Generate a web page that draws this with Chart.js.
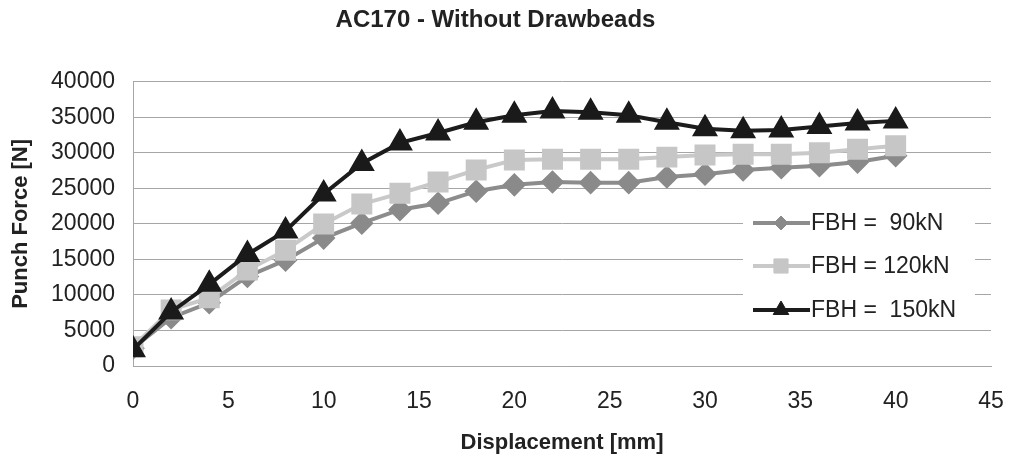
<!DOCTYPE html>
<html>
<head>
<meta charset="utf-8">
<script src="https://cdn.jsdelivr.net/npm/chart.js@4/dist/chart.umd.min.js"></script>
<style>
    html, body { margin: 0; padding: 0; background: #fff; }
    #wrap { width: 1009px; height: 459px; }
</style>
</head>
<body>
<div id="wrap"><canvas id="chart" width="1009" height="459"></canvas></div>
<script>
// Chart data
const displacement = [0, 2, 4, 6, 8, 10, 12, 14, 16, 18, 20, 22, 24, 26, 28, 30, 32, 34, 36, 38, 40];
const fbh90 = [2500, 6800, 8900, 12600, 14900, 18000, 20100, 22000, 22900, 24600, 25500, 25900, 25800, 25800, 26600, 27000, 27600, 27900, 28200, 28700, 29600];
const fbh120 = [2700, 7900, 9600, 13500, 16300, 20000, 22800, 24300, 25900, 27600, 29000, 29100, 29100, 29100, 29400, 29700, 29800, 29800, 30000, 30500, 31000];
const fbh150 = [2300, 7600, 11500, 15700, 19000, 24200, 28500, 31400, 32800, 34300, 35300, 35900, 35700, 35300, 34300, 33400, 33100, 33200, 33700, 34200, 34500];
const seriesLabels = ['FBH =  90kN', 'FBH = 120kN', 'FBH =  150kN'];
const xTicks = [0, 5, 10, 15, 20, 25, 30, 35, 40, 45];
const yTicks = [0, 5000, 10000, 15000, 20000, 25000, 30000, 35000, 40000];

const FONT = "'Liberation Sans', Arial, sans-serif";

function toPoints(values) {
    return values.map((v, i) => ({ x: displacement[i], y: v }));
}

// Legend drawn inside the plot, on a white box over the grid
const insideLegend = {
    id: 'insideLegend',
    afterDatasetsDraw(chart) {
        const ctx = chart.ctx;
        ctx.save();
        ctx.fillStyle = '#ffffff';
        ctx.fillRect(743, 196, 232, 131);
        const rows = [223, 266, 310];
        chart.data.datasets.forEach((ds, i) => {
            const y = rows[i];
            ctx.strokeStyle = ds.borderColor;
            ctx.lineWidth = ds.borderWidth;
            ctx.beginPath();
            ctx.moveTo(753, y);
            ctx.lineTo(810, y);
            ctx.stroke();
            ctx.fillStyle = ds.pointBackgroundColor;
            ctx.strokeStyle = ds.pointBackgroundColor;
            ctx.lineWidth = 1;
            Chart.helpers.drawPoint(ctx, {
                pointStyle: ds.pointStyle,
                radius: ds.legendRadius,
                borderWidth: 1
            }, 781, y);
            ctx.fillStyle = '#222';
            ctx.font = '23px ' + FONT;
            ctx.textBaseline = 'middle';
            ctx.textAlign = 'left';
            ctx.fillText(ds.label, 811, y + 1);
        });
        ctx.restore();
    }
};

const ctx = document.getElementById('chart').getContext('2d');
const chart = new Chart(ctx, {
    type: 'line',
    data: {
        datasets: [{
            label: seriesLabels[0],
            data: toPoints(fbh90),
            borderColor: '#8c8c8c',
            backgroundColor: '#8c8c8c',
            pointBackgroundColor: '#8a8a8a',
            pointBorderColor: '#8a8a8a',
            pointStyle: 'rectRot',
            pointRadius: 9,
            legendRadius: 7,
            borderWidth: 4,
            order: 3
        }, {
            label: seriesLabels[1],
            data: toPoints(fbh120),
            borderColor: '#c9c9c9',
            backgroundColor: '#c9c9c9',
            pointBackgroundColor: '#c6c6c6',
            pointBorderColor: '#c6c6c6',
            pointStyle: 'rect',
            pointRadius: 12,
            legendRadius: 10,
            borderWidth: 4,
            order: 2
        }, {
            label: seriesLabels[2],
            data: toPoints(fbh150),
            borderColor: '#1c1c1c',
            backgroundColor: '#1c1c1c',
            pointBackgroundColor: '#1a1a1a',
            pointBorderColor: '#1a1a1a',
            pointStyle: 'triangle',
            pointRadius: 11,
            legendRadius: 9,
            borderWidth: 4,
            order: 1
        }]
    },
    options: {
        responsive: false,
        animation: false,
        layout: { padding: { left: 0, right: 18, top: 0, bottom: 0 } },
        elements: { line: { tension: 0 }, point: { borderWidth: 1 } },
        plugins: {
            legend: { display: false },
            tooltip: { enabled: false },
            title: {
                display: true,
                text: 'AC170 - Without Drawbeads',
                color: '#222',
                font: { family: FONT, size: 24, weight: 'bold' },
                padding: { top: 6, bottom: 47 }
            }
        },
        scales: {
            x: {
                type: 'linear',
                min: 0,
                max: 45,
                afterBuildTicks: (axis) => { axis.ticks = xTicks.map(v => ({ value: v })); },
                afterFit: (axis) => {
                    axis.height = 93;
                    axis.paddingLeft = 0;
                    axis.paddingRight = 0;
                },
                grid: { display: false, drawTicks: false },
                border: { display: true, color: '#a6a6a6', width: 1 },
                ticks: {
                    color: '#222',
                    padding: 22,
                    font: { family: FONT, size: 23 },
                    callback: (v) => String(v)
                },
                title: {
                    display: true,
                    text: 'Displacement [mm]',
                    color: '#222',
                    font: { family: FONT, size: 22, weight: 'bold' },
                    padding: { top: 0, bottom: 3 }
                }
            },
            y: {
                min: 0,
                max: 40000,
                afterBuildTicks: (axis) => { axis.ticks = yTicks.map(v => ({ value: v })); },
                afterFit: (axis) => {
                    axis.width = 133;
                    axis.paddingTop = 0;
                    axis.paddingBottom = 0;
                },
                grid: { color: '#a6a6a6', lineWidth: 1, drawTicks: false },
                border: { display: true, color: '#a6a6a6', width: 1 },
                ticks: {
                    color: '#222',
                    padding: 18,
                    font: { family: FONT, size: 23 },
                    callback: (v) => String(v)
                },
                title: {
                    display: true,
                    text: 'Punch Force [N]',
                    color: '#222',
                    font: { family: FONT, size: 22, weight: 'bold' },
                    padding: { top: 8, bottom: 0 }
                }
            }
        }
    },
    plugins: [insideLegend]
});
</script>
</body>
</html>
